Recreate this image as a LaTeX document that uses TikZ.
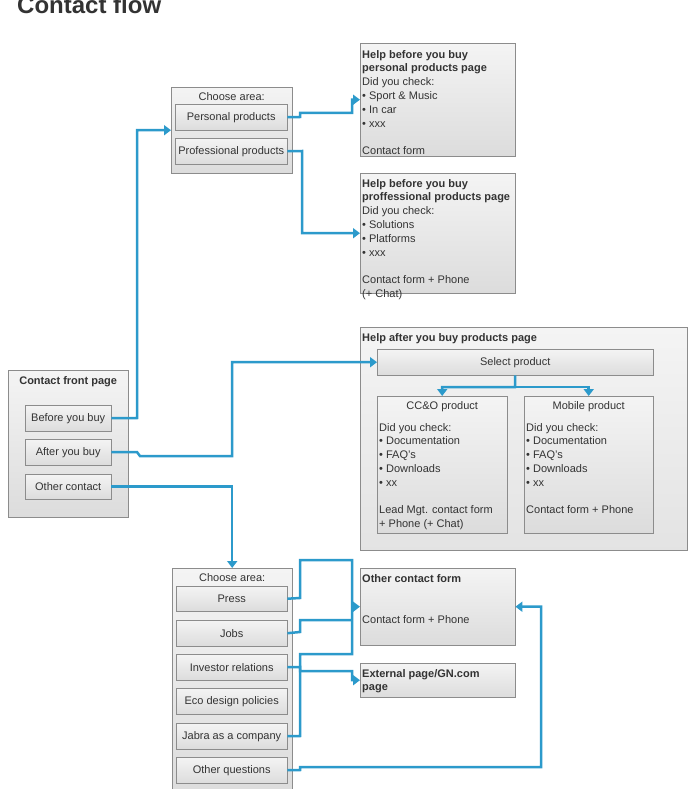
\documentclass[tikz,border=0pt]{standalone}
\usepackage{fontspec}
\setmainfont{Liberation Sans}
\usetikzlibrary{positioning}
\usetikzlibrary{arrows.meta}

\definecolor{flowblue}{HTML}{2C9ACB}
\definecolor{boxline}{HTML}{8C8C8C}
\definecolor{boxtop}{HTML}{F4F4F4}
\definecolor{boxbot}{HTML}{DCDCDC}
\definecolor{txtgray}{HTML}{333333}

\begin{document}
\begin{tikzpicture}[x=1pt, y=-1pt, page_box/.style={draw=boxline, top color=boxtop, bottom color=boxbot, anchor=north west, inner sep=0pt}, btn_node/.style={draw=boxline, top color=boxtop, bottom color=boxbot, minimum width=111pt, minimum height=26pt, inner sep=0pt, anchor=north west, text=txtgray, font=\fontsize{11}{13.8}\selectfont}, txt_node/.style={anchor=north west, align=left, inner sep=2pt, text=txtgray, font=\fontsize{11}{13.8}\selectfont}, flow/.style={draw=flowblue, line width=2.5pt, -{Triangle[length=7pt,width=10pt]}}, flow_plain/.style={draw=flowblue, line width=2.5pt}]

	\useasboundingbox (0,0) rectangle (700,789);
	\node[anchor=base west, inner sep=0pt, text=txtgray, font=\fontsize{24}{28}\selectfont\bfseries] (title) at (17,14) {Contact flow};

	% outer pages
	\node[page_box, minimum width=121pt, minimum height=86pt] (ca) at (171,87) {};
	\node[page_box, minimum width=155pt, minimum height=113pt] (hp) at (360,43) {};
	\node[page_box, minimum width=155pt, minimum height=120pt] (hq) at (360,173) {};
	\node[page_box, minimum width=120pt, minimum height=147pt] (fp) at (8,370) {};
	\node[page_box, top color=boxtop, bottom color=boxbot!70!boxtop, minimum width=327pt, minimum height=223pt] (ha) at (360,327) {};
	\node[page_box, minimum width=120pt, minimum height=226pt] (cb) at (172,568) {};
	\node[page_box, minimum width=155pt, minimum height=77pt] (ocf) at (360,568) {};
	\node[page_box, minimum width=155pt, minimum height=34pt] (ext) at (360,663) {};

	% buttons
	\node[btn_node, minimum width=112pt] (pp) at (175,104) {Personal products};
	\node[btn_node, minimum width=112pt] (pf) at (175,138) {Professional products};
	\node[btn_node, minimum width=86pt] (bb) at (25,405) {Before you buy};
	\node[btn_node, minimum width=86pt] (ab) at (25,439) {After you buy};
	\node[btn_node, minimum width=86pt, minimum height=25pt] (oc) at (25,474) {Other contact};
	\node[btn_node, minimum width=276pt] (sp) at (377,349) {Select product};
	\node[page_box, minimum width=130pt, minimum height=137pt] (cco) at (377,396) {};
	\node[page_box, minimum width=129pt, minimum height=137pt] (mob) at (524,396) {};
	\node[btn_node, minimum height=25pt] (press) at (176,586) {Press};
	\node[btn_node] (jobs) at (176,620) {Jobs};
	\node[btn_node] (inv) at (176,654) {Investor relations};
	\node[btn_node] (eco) at (176,688) {Eco design policies};
	\node[btn_node] (jab) at (176,723) {Jabra as a company};
	\node[btn_node] (oq) at (176,757) {Other questions};

	% texts
	\node[txt_node, anchor=north] (ca_t) at ([yshift=-3pt]ca.north) {Choose area:};
	\node[txt_node, anchor=north] (cb_t) at ([yshift=-3pt]cb.north) {Choose area:};
	\node[txt_node, anchor=north] (fp_t) at ([yshift=-4pt]fp.north) {\textbf{Contact front page}};
	\node[txt_node] (hp_t) at ([yshift=-5pt]hp.north west) {\textbf{Help before you buy}\\\textbf{personal products page}\\Did you check:\\• Sport \& Music\\• In car\\• xxx\\[13.8pt]Contact form};
	\node[txt_node] (hq_t) at ([yshift=-4pt]hq.north west) {\textbf{Help before you buy}\\\textbf{proffessional products page}\\Did you check:\\• Solutions\\• Platforms\\• xxx\\[13.8pt]Contact form + Phone\\(+ Chat)};
	\node[txt_node] (ha_t) at ([yshift=-4pt]ha.north west) {\textbf{Help after you buy products page}};
	\node[txt_node, anchor=north] (cco_t) at ([yshift=-3pt]cco.north) {CC\&O product};
	\node[txt_node, anchor=north] (mob_t) at ([yshift=-3pt]mob.north) {Mobile product};
	\node[txt_node] (cco_b) at ([yshift=-25pt]cco.north west) {Did you check:\\• Documentation\\• FAQ's\\• Downloads\\• xx\\[13.8pt]Lead Mgt. contact form\\+ Phone (+ Chat)};
	\node[txt_node] (mob_b) at ([yshift=-25pt]mob.north west) {Did you check:\\• Documentation\\• FAQ's\\• Downloads\\• xx\\[13.8pt]Contact form + Phone};
	\node[txt_node] (ocf_t) at ([yshift=-4pt]ocf.north west) {\textbf{Other contact form}\\[27.6pt]Contact form + Phone};
	\node[txt_node] (ext_t) at ([yshift=-4pt]ext.north west) {\textbf{External page/GN.com}\\\textbf{page}};

	% flows
	\coordinate (sp_split) at (515,387);
	\draw[flow] (bb.east) -- (137,418) |- (ca.west);
	\draw[flow] (pp.east) -- (300,117) -- (300,113) -- (352,113) |- (hp.west);
	\draw[flow] (pf.east) -- (302,151) |- (hq.west);
	\draw[flow] (ab.east) -- (137,452) -- (140,456) -- (232,456) |- (sp.west);
	\draw[flow] (oc.east) -| (cb.north);
	\draw[flow] (sp.south) -- (sp_split) -| (cco.north);
	\draw[flow] (sp_split) -| (mob.north);
	\draw[flow_plain] (press.east) -- (300,598) -- (300,560) -- (352,560) -- (352,654) -- (300,654) -- (300,736) -- (jab.east);
	\draw[flow_plain] (jobs.east) -- (300,632) -- (300,620) -- (352,620);
	\draw[flow] ([xshift=-8pt]ocf.west) -- (ocf.west);
	\draw[flow] (inv.east) -- (300,667) -- (300,671) -- (352,671) |- (ext.west);
	\draw[flow] (oq.east) -- (300,770) -- (300,767) -- (541,767) |- (ocf.east);
\end{tikzpicture}
\end{document}
